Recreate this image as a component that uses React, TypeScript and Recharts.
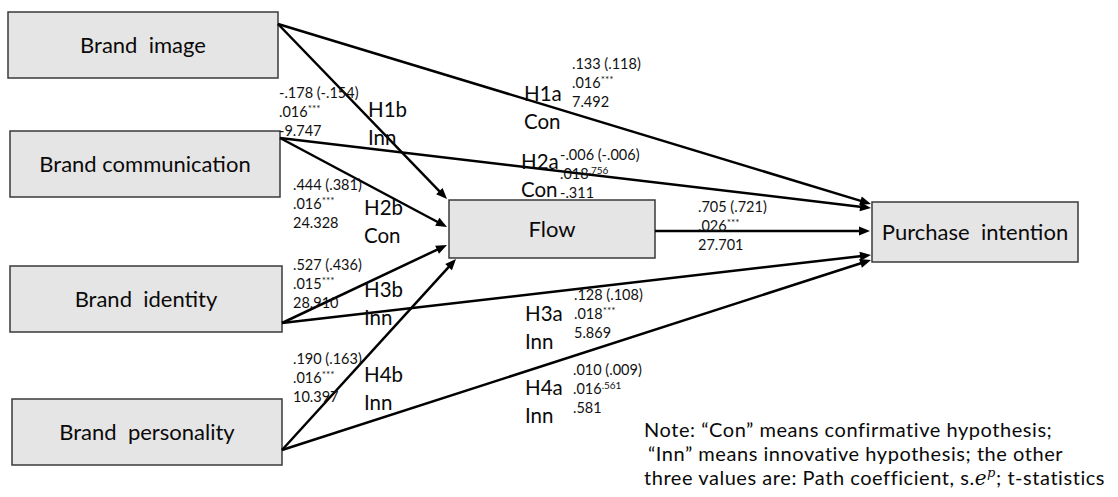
import React from "react";
import { ScatterChart, XAxis, YAxis, ReferenceArea, ReferenceLine, Scatter } from "recharts";

const W = 1118;
const H = 497;
const FONT = "Lato, 'Open Sans', sans-serif";

// ---- constructs ----
const constructNames = [
  "Brand\u00A0 image",
  "Brand communication",
  "Brand\u00A0 identity",
  "Brand\u00A0 personality",
  "Flow",
  "Purchase\u00A0 intention",
];
// box layout in diagram units [x1, x2, y1, y2]
const boxLayout = [
  [8, 278, 12, 78],
  [10, 280, 131, 197],
  [10, 282, 266, 332],
  [12, 282, 399, 465],
  [449, 655, 200, 258],
  [872, 1078, 202, 262],
];

// ---- structural paths ----
const hypotheses = ["H1a", "H1b", "H2a", "H2b", "H3a", "H3b", "H4a", "H4b", ""];
const hypothesisType = ["Con", "Inn", "Con", "Con", "Inn", "Inn", "Inn", "Inn", ""];
const pathCoef = [".133", "-.178", "-.006", ".444", ".128", ".527", ".010", ".190", ".705"];
const stdCoef = [".118", "-.154", "-.006", ".381", ".108", ".436", ".009", ".163", ".721"];
const stdError = [".016", ".016", ".018", ".016", ".018", ".015", ".016", ".016", ".026"];
const pValue = ["***", "***", ".756", "***", "***", "***", ".561", "***", "***"];
const tStat = ["7.492", "-9.747", "-.311", "24.328", "5.869", "28.910", ".581", "10.397", "27.701"];

// path layout: [fromX, fromY, toX, toY]
const pathLayout = [
  [278, 24, 871, 204],
  [278, 24, 447, 199],
  [280, 138, 871, 208],
  [280, 138, 447, 227],
  [282, 323, 871, 255],
  [282, 323, 447, 245],
  [282, 450, 871, 260],
  [282, 450, 456, 259],
  [655, 231, 870, 231],
];
// statistics block anchor (left, first-line center)
const statLayout = [
  [572, 64],
  [279, 93],
  [560, 155],
  [293, 185],
  [574, 295],
  [293, 265],
  [573, 370],
  [293, 359],
  [698, 207],
];
// hypothesis label anchor (left, first-line center)
const hypLayout = [
  [524, 94],
  [368, 110],
  [521, 162],
  [364, 208],
  [525, 314],
  [364, 290],
  [525, 388],
  [364, 375],
];

const noteLines = [
  "Note: \u201CCon\u201D means confirmative hypothesis;",
  "\u201CInn\u201D means innovative hypothesis; the other",
  "three values are: Path coefficient, ",
];
const noteLayout = [
  [644, 437],
  [648, 461],
  [644, 485],
];

const statData = pathCoef.map((c, i) => ({
  x: statLayout[i][0],
  y: statLayout[i][1],
  l1: `${c} (${stdCoef[i]})`,
  se: stdError[i],
  p: pValue[i],
  t: tStat[i],
}));
const hypData = hypotheses
  .map((h, i) => ({ x: hypLayout[i] ? hypLayout[i][0] : 0, y: hypLayout[i] ? hypLayout[i][1] : 0, h, type: hypothesisType[i] }))
  .filter((d) => d.h !== "");
const noteData = noteLines.map((t, i) => ({ x: noteLayout[i][0], y: noteLayout[i][1], t, i }));

const StatShape = (props: any) => {
  const { cx, cy, payload } = props;
  const lh = 19;
  const fs = 14.5;
  const b = cy + fs * 0.36;
  return (
    <text fontFamily={FONT} fontSize={fs} fill="#111">
      <tspan x={cx} y={b}>{payload.l1}</tspan>
      <tspan x={cx} y={b + lh}>{payload.se}</tspan>
      <tspan fontSize={10} dy={-5}>{payload.p}</tspan>
      <tspan x={cx} y={b + 2 * lh}>{payload.t}</tspan>
    </text>
  );
};

const HypShape = (props: any) => {
  const { cx, cy, payload } = props;
  const fs = 20.5;
  const b = cy + fs * 0.36;
  return (
    <text fontFamily={FONT} fontSize={fs} fill="#0a0a0a">
      <tspan x={cx} y={b}>{payload.h}</tspan>
      <tspan x={cx} y={b + 28}>{payload.type}</tspan>
    </text>
  );
};

const NoteShape = (props: any) => {
  const { cx, cy, payload } = props;
  return (
    <text x={cx} y={cy} fontFamily={FONT} fontSize={20} letterSpacing={0.55} fill="#0a0a0a">
      {payload.t}
      {payload.i === 2 ? (
        <>
          <tspan>s.</tspan>
          <tspan fontFamily="'DejaVu Serif', serif" fontStyle="italic">e</tspan>
          <tspan fontFamily="'DejaVu Serif', serif" fontStyle="italic" fontSize={13} dy={-8}>p</tspan>
          <tspan dy={8}>; t-statistics</tspan>
        </>
      ) : null}
    </text>
  );
};

const ArrowLine = (props: any) => {
  const { x1, y1, x2, y2 } = props;
  if ([x1, y1, x2, y2].some((v) => typeof v !== "number" || isNaN(v))) return <g />;
  const dx = x2 - x1;
  const dy = y2 - y1;
  const len = Math.sqrt(dx * dx + dy * dy);
  const ux = dx / len;
  const uy = dy / len;
  const al = 11;
  const aw = 4.5;
  const bx = x2 - ux * al;
  const by = y2 - uy * al;
  const pts = `${x2},${y2} ${bx - uy * aw},${by + ux * aw} ${bx + uy * aw},${by - ux * aw}`;
  return (
    <g>
      <line x1={x1} y1={y1} x2={bx + ux * 2} y2={by + uy * 2} stroke="#000" strokeWidth={2.5} />
      <polygon points={pts} fill="#000" />
    </g>
  );
};

const BoxLabel = (name: string) => (props: any) => {
  const vb = props.viewBox || {};
  const cx = vb.x + vb.width / 2;
  const cy = vb.y + vb.height / 2;
  return (
    <text x={cx} y={cy + 22 * 0.36} textAnchor="middle" fontFamily={FONT} fontSize={22} fill="#0a0a0a">
      {name}
    </text>
  );
};

export default function App() {
  return (
    <div style={{ position: "absolute", left: 0, top: 0, width: W, height: H, background: "#fff" }}>
      <ScatterChart width={W} height={H} margin={{ top: 0, right: 0, bottom: 0, left: 0 }}>
        <XAxis type="number" dataKey="x" domain={[0, W]} hide allowDataOverflow />
        <YAxis type="number" dataKey="y" domain={[0, H]} reversed hide allowDataOverflow />
        {pathLayout.map((p, i) => (
          <ReferenceLine
            key={`path-${i}`}
            segment={[
              { x: p[0], y: p[1] },
              { x: p[2], y: p[3] },
            ]}
            ifOverflow="visible"
            shape={ArrowLine}
          />
        ))}
        {constructNames.map((n, i) => (
          <ReferenceArea
            key={`box-${i}`}
            x1={boxLayout[i][0]}
            x2={boxLayout[i][1]}
            y1={boxLayout[i][2]}
            y2={boxLayout[i][3]}
            fill="#e6e5e5"
            fillOpacity={1}
            stroke="#3a3a3a"
            strokeWidth={1.5}
            ifOverflow="visible"
            label={BoxLabel(n)}
          />
        ))}
        <Scatter data={statData} isAnimationActive={false} shape={StatShape} />
        <Scatter data={hypData} isAnimationActive={false} shape={HypShape} />
        <Scatter data={noteData} isAnimationActive={false} shape={NoteShape} />
      </ScatterChart>
    </div>
  );
}
